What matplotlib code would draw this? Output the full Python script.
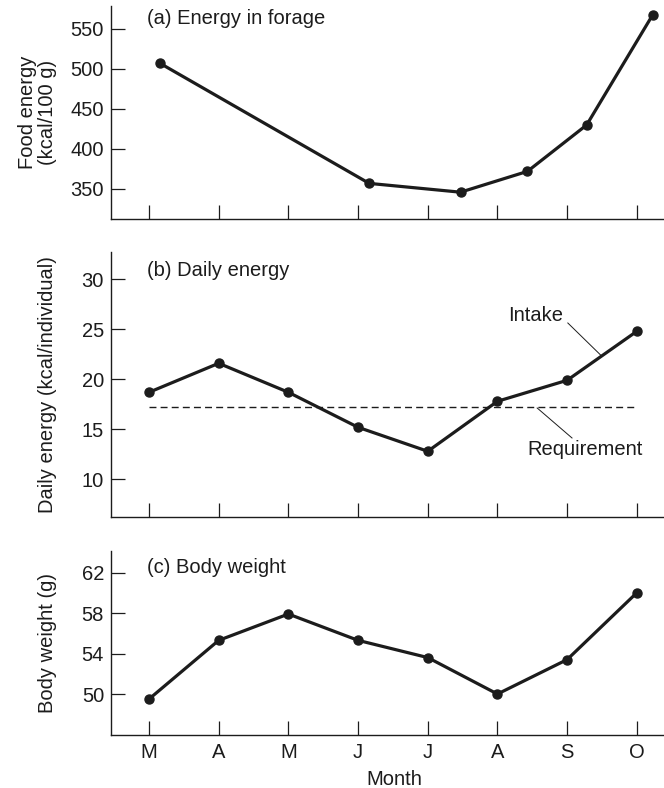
import matplotlib
matplotlib.use("Agg")
import matplotlib.pyplot as plt

plt.rcParams['font.family'] = ['Liberation Sans', 'DejaVu Sans']

# Data
months = ['M', 'A', 'M', 'J', 'J', 'A', 'S', 'O']
month_pos = list(range(len(months)))

# (a) energy in forage, sampled at fractional month positions
forage_pos = [0.16, 3.16, 4.47, 5.43, 6.28, 7.23]
forage_kcal = [507, 357, 346, 372, 430, 568]

# (b) daily energy intake and requirement
intake = [18.7, 21.6, 18.7, 15.2, 12.8, 17.8, 19.9, 24.8]
requirement = 17.2

# (c) body weight
body_weight = [49.5, 55.3, 57.9, 55.3, 53.6, 50.0, 53.4, 60.0]

INK = '#1c1c1c'
FS = 14.5
YLAB_X = -0.098

fig = plt.figure(figsize=(6.64, 7.88), dpi=100)

def style_axes(ax, yticks, ylim):
    ax.set_xlim(-0.545, 7.39)
    ax.set_ylim(*ylim)
    ax.set_yticks(yticks)
    ax.set_xticks(month_pos)
    for s in ('top', 'right'):
        ax.spines[s].set_visible(False)
    for s in ('left', 'bottom'):
        ax.spines[s].set_color(INK)
        ax.spines[s].set_linewidth(1.0)
    ax.tick_params(axis='both', direction='in', length=10, width=0.9,
                   colors=INK, labelsize=FS, pad=6)
    ax.tick_params(axis='y', pad=5)

def plot_line(ax, x, y):
    ax.plot(x, y, color=INK, lw=2.3, marker='o', ms=6.5,
            markerfacecolor=INK, markeredgecolor=INK, clip_on=False, zorder=3)

# Panel (a)
axa = fig.add_axes([0.1672, 0.7221, 0.8328, 0.2703])
style_axes(axa, [350, 400, 450, 500, 550], (312.5, 578.75))
plot_line(axa, forage_pos, forage_kcal)
axa.set_xticklabels([])
axa.set_ylabel('Food energy\n(kcal/100 g)', fontsize=FS, color=INK,
               linespacing=1.05)
axa.yaxis.set_label_coords(YLAB_X, 0.5)
axa.text(0.065, 0.94, '(a) Energy in forage', transform=axa.transAxes,
         fontsize=FS, color=INK, va='center', ha='left')

# Panel (b)
axb = fig.add_axes([0.1672, 0.3443, 0.8328, 0.3363])
style_axes(axb, [10, 15, 20, 25, 30], (6.26, 32.76))
axb.plot([month_pos[0], month_pos[-1]], [requirement, requirement],
         color=INK, lw=1.0, ls=(0, (5, 3)), zorder=2)
plot_line(axb, month_pos, intake)
axb.set_xticklabels([])
axb.set_ylabel('Daily energy (kcal/individual)', fontsize=FS, color=INK)
axb.yaxis.set_label_coords(YLAB_X, 0.5)
axb.text(0.065, 0.93, '(b) Daily energy', transform=axb.transAxes,
         fontsize=FS, color=INK, va='center', ha='left')
axb.text(5.55, 26.35, 'Intake', fontsize=FS, color=INK, ha='center', va='center')
axb.plot([6.01, 6.48], [25.63, 22.43], color=INK, lw=0.7)
axb.text(6.26, 12.93, 'Requirement', fontsize=FS, color=INK, ha='center', va='center')
axb.plot([5.57, 6.07], [17.13, 14.13], color=INK, lw=0.7)

# Panel (c)
axc = fig.add_axes([0.1672, 0.0676, 0.8328, 0.2335])
style_axes(axc, [50, 54, 58, 62], (45.98, 64.15))
plot_line(axc, month_pos, body_weight)
axc.set_xticklabels(months)
axc.set_ylabel('Body weight (g)', fontsize=FS, color=INK)
axc.yaxis.set_label_coords(YLAB_X, 0.5)
axc.set_xlabel('Month', fontsize=FS, color=INK)
axc.xaxis.set_label_coords(0.512, -0.19)
axc.text(0.065, 0.91, '(c) Body weight', transform=axc.transAxes,
         fontsize=FS, color=INK, va='center', ha='left')

fig.savefig('out.png', dpi=100)
